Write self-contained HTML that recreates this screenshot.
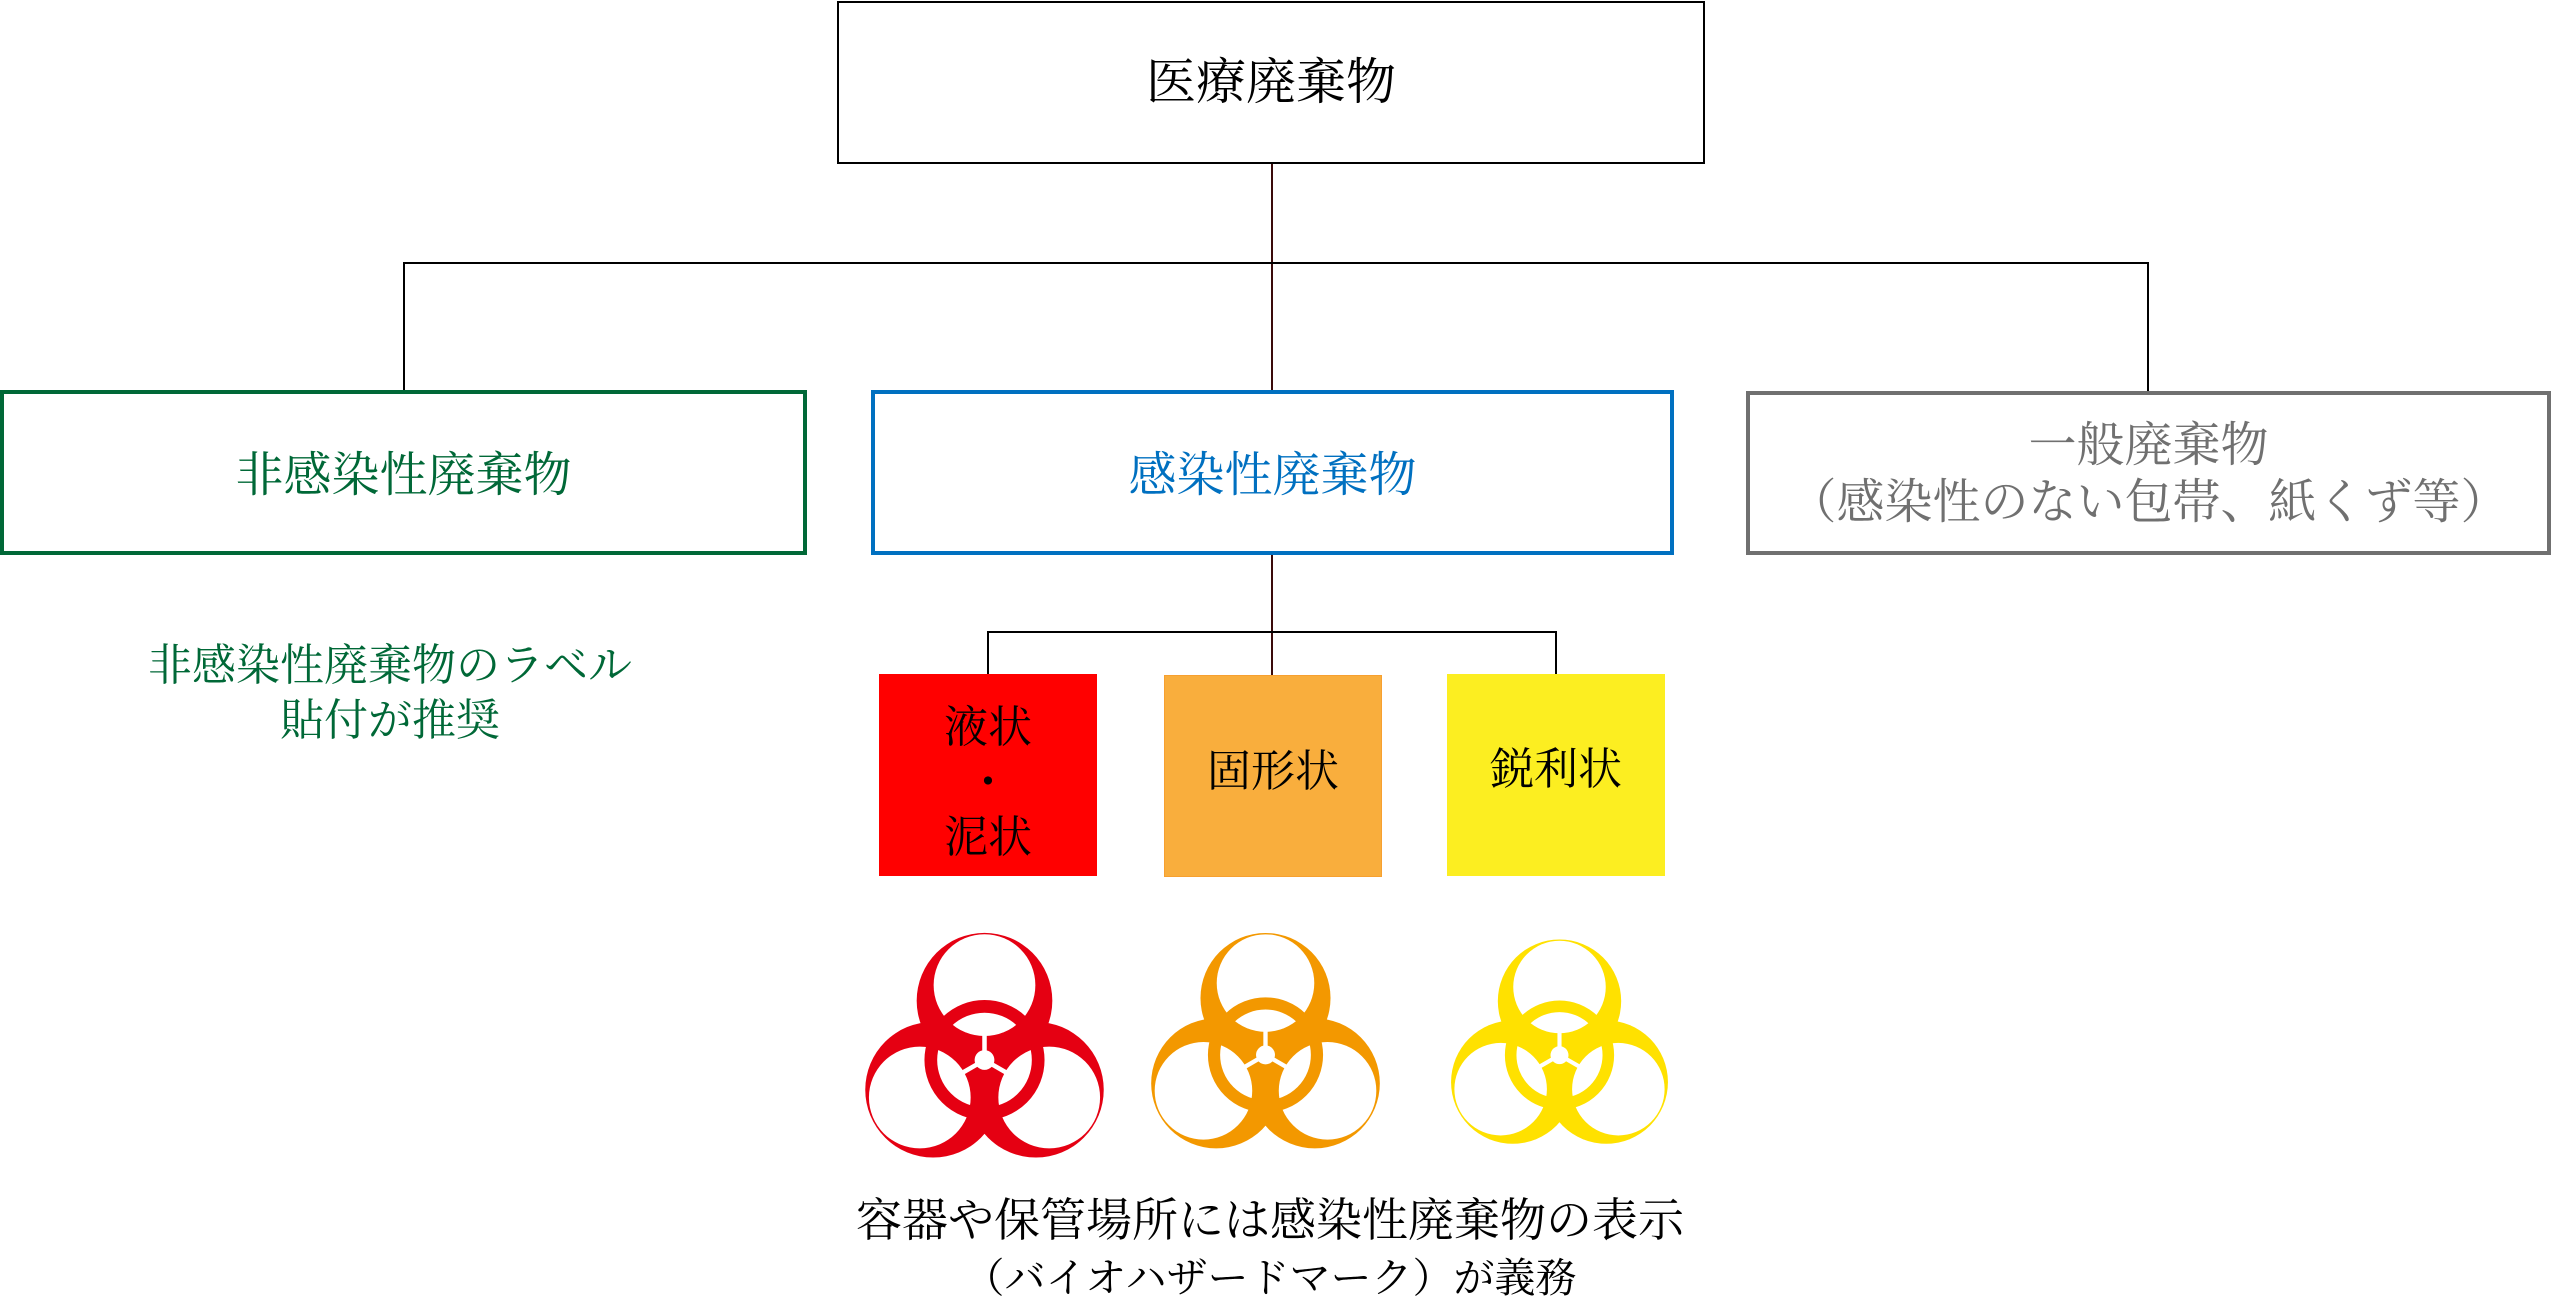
<!DOCTYPE html>
<html><head><meta charset="utf-8"><style>
html,body{margin:0;padding:0;background:#fff}
body{width:2552px;height:1299px;position:relative;overflow:hidden;font-family:"Liberation Serif","Noto Serif CJK SC",serif}
.a{position:absolute;box-sizing:border-box}
.t{position:absolute;text-align:center;white-space:nowrap;line-height:1}
.h{position:absolute;background:#000;height:2px}
.v{position:absolute;background:#000;width:2px}
</style></head><body>
<div class="a" style="left:837px;top:1px;width:868px;height:163px;border:2px solid #000"></div>
<div class="t" style="left:837px;width:868px;top:57px;font-size:50px">医療廃棄物</div>
<div class="v" style="left:1271px;top:164px;height:227px;background:#3a0a0a"></div>
<div class="h" style="left:404px;top:262px;width:1745px"></div>
<div class="v" style="left:403px;top:262px;height:129px"></div>
<div class="v" style="left:2147px;top:262px;height:129px"></div>

<div class="a" style="left:0;top:390px;width:807px;height:165px;border:4px solid #006837"></div>
<div class="t" style="left:0;width:807px;top:452px;font-size:48px;color:#006837">非感染性廃棄物</div>
<div class="a" style="left:871px;top:390px;width:803px;height:165px;border:4px solid #0070c0"></div>
<div class="t" style="left:871px;width:803px;top:452px;font-size:48px;color:#0070c0">感染性廃棄物</div>
<div class="a" style="left:1746px;top:391px;width:805px;height:164px;border:4px solid #707070"></div>
<div class="t" style="left:1746px;width:805px;top:417px;font-size:48px;color:#707070;line-height:57px">一般廃棄物<br>（感染性のない包帯、紙くず等）</div>

<div class="t" style="left:90px;width:600px;top:638px;font-size:44px;color:#006837;line-height:55px">非感染性廃棄物のラベル<br>貼付が推奨</div>

<div class="v" style="left:1271px;top:555px;height:120px;background:#3a0a0a"></div>
<div class="h" style="left:988px;top:631px;width:569px"></div>
<div class="v" style="left:987px;top:631px;height:43px"></div>
<div class="v" style="left:1555px;top:631px;height:43px"></div>

<div class="a" style="left:879px;top:674px;width:218px;height:202px;background:#ff0000"></div>
<div class="t" style="left:879px;width:218px;top:700px;font-size:44px;line-height:55px">液状<br>・<br>泥状</div>
<div class="a" style="left:1164px;top:675px;width:218px;height:202px;background:#f9ae3d;border:1px solid #f7a030"></div>
<div class="t" style="left:1164px;width:218px;top:750px;font-size:44px">固形状</div>
<div class="a" style="left:1447px;top:674px;width:218px;height:202px;background:#fcee21"></div>
<div class="t" style="left:1447px;width:218px;top:748px;font-size:44px">鋭利状</div>

<svg width="0" height="0" style="position:absolute">
<defs>
<mask id="m" maskUnits="userSpaceOnUse" x="-60" y="-60" width="120" height="120">
<g fill="#fff">
<circle cx="0" cy="-21" r="24"/><circle cx="-18.2" cy="10.5" r="24"/><circle cx="18.2" cy="10.5" r="24"/>
</g>
<g fill="#000">
<circle cx="0" cy="-26.5" r="18"/><circle cx="-22.9" cy="13.25" r="18"/><circle cx="22.9" cy="13.25" r="18"/>
</g>
<circle cx="0" cy="0" r="19" fill="none" stroke="#fff" stroke-width="4.5"/>
<circle cx="0" cy="0" r="3.5" fill="#000"/>
<g stroke="#000" stroke-width="1.6">
<line x1="0" y1="0" x2="0" y2="-9"/><line x1="0" y1="0" x2="-7.8" y2="4.5"/><line x1="0" y1="0" x2="7.8" y2="4.5"/>
</g>
</mask>
</defs>
</svg>
<svg class="a" style="left:863px;top:930px" width="243" height="229" viewBox="-43 -46 86 81"><rect x="-60" y="-60" width="120" height="120" fill="#e50012" mask="url(#m)"/></svg>
<svg class="a" style="left:1149px;top:930px" width="233" height="220" viewBox="-43 -46 86 81"><rect x="-60" y="-60" width="120" height="120" fill="#f39800" mask="url(#m)"/></svg>
<svg class="a" style="left:1449px;top:936px" width="221" height="210" viewBox="-43 -46 86 81"><rect x="-60" y="-60" width="120" height="120" fill="#ffe100" mask="url(#m)"/></svg>

<div class="t" style="left:660px;width:1220px;top:1193px;font-size:46px;line-height:56px">容器や保管場所には感染性廃棄物の表示<br><span style="font-size:41px">（バイオハザードマーク）が義務</span></div>
</body></html>
